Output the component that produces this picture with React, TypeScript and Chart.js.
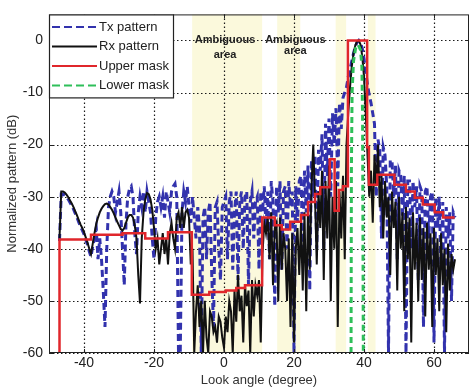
import React, { useEffect, useRef } from "react";
import { Chart, registerables } from "chart.js";

Chart.register(...registerables);

// Angle grid of the measured patterns (degrees)
const angleStart = -47;
const angleStep = 0.5;

// Tx pattern (dB), one value every 0.5 degree from -47 to 66
const txPattern = [
  -38.5, -29.5, -29.5, -29.7, -30, -30.5, -31.1, -31.7, -32.4, -33.2,
  -34, -34.9, -35.7, -36.4, -37.2, -38.2, -39.2, -40.5, -41.5, -39.5,
  -38, -36, -42, -38, -42, -48, -55, -40, -32, -30,
  -29, -30, -33, -31, -29, -33, -40, -47, -35, -30,
  -28.5, -28, -30, -37, -41, -33, -30, -32, -29, -33,
  -29, -31, -33, -38, -42, -34, -31, -30, -32, -30,
  -34, -29, -31, -33, -29, -28, -27.5, -30, -60, -60,
  -33, -29, -31, -28, -32, -35, -30, -34, -38, -32,
  -36, -60, -34, -32, -42, -33, -31, -45, -55, -32,
  -31, -40, -46, -32, -31, -30, -42, -31, -29, -44,
  -33, -29, -46, -31, -29, -40, -30, -29, -47, -31,
  -29, -38, -31, -30, -44, -29, -33, -28, -36, -29,
  -42, -27, -31, -51, -28, -33, -27, -44, -29, -28,
  -40, -27, -32, -29, -60, -28, -35, -27, -26, -40,
  -25, -33, -24, -48, -23, -30, -22, -40, -21, -25,
  -18, -40, -16, -26, -15, -30, -14, -20, -13, -28,
  -12, -17, -11, -10, -9, -7, -5.5, -4, -2.5, -1.2,
  -0.4, 0, -0.5, -1.5, -3.5, -6, -8.5, -10.5, -12, -14,
  -16, -30, -19, -21, -38, -20.5, -22, -28, -60, -23,
  -23, -30, -24, -42, -25, -26, -34, -26, -60, -27,
  -27, -40, -27, -32, -28, -46, -28, -29, -55, -29,
  -28, -38, -30, -29, -58, -30, -36, -30, -44, -31,
  -60, -32, -38, -33, -50, -33, -34,
];

// Rx pattern (dB), same angle grid
const rxPattern = [
  -38, -29, -29, -29.2, -29.6, -30.1, -30.7, -31.3, -32, -32.8,
  -33.6, -34.5, -35.3, -36, -36.8, -37.8, -38.8, -40, -41, -39,
  -37, -35.2, -34, -33, -32.3, -31.8, -31.4, -31.3, -31.5, -32,
  -32.5, -33.2, -34, -34.8, -35.5, -36.2, -36.5, -36, -35, -34,
  -33.5, -33.5, -34, -35.5, -38, -45, -50.5, -38, -33, -30.5,
  -29.3, -29.5, -30.5, -32.5, -36, -40, -38, -43, -40, -37,
  -41, -38, -43, -37, -35, -38, -40, -34, -33, -36,
  -32, -36, -33, -32.5, -34, -43, -40, -60, -52, -47,
  -55, -50, -60, -50, -57, -60, -52, -53, -56, -55,
  -58, -53, -54, -57, -59, -53, -56, -50, -52, -60,
  -48, -54, -45, -52, -49, -58, -47, -51, -48, -60,
  -46, -53, -47, -49, -46, -58, -41, -35, -37, -34,
  -42, -33, -47, -36, -35, -50, -34, -44, -37, -40,
  -50, -38, -55, -37, -58, -40, -36, -45, -35, -48,
  -33, -52, -32, -44, -28, -20, -30, -43, -29, -36,
  -25, -46, -27, -38, -24, -50, -30, -40, -27, -55,
  -29, -38, -26, -42, -20, -14, -9, -5, -2.5, -1,
  -0.2, 0, -0.8, -3, -7, -14, -22, -30, -25, -35,
  -22, -28, -20, -32, -26, -38, -27, -34, -30, -45,
  -29, -36, -31, -48, -30, -40, -33, -52, -32, -42,
  -34, -58, -33, -44, -35, -50, -34, -46, -36, -53,
  -35, -44, -37, -55, -36, -45, -38, -52, -37, -47,
  -40, -56, -39, -48, -41, -44, -42,
];

// Upper mask: each level holds from its angle to the next angle
const upperMaskAngles = [
  -47, -47, -38, -29, -22.5, -16, -9.2, -4.2, 0.5, 3.5,
  6, 10.9, 14.5, 16.5, 18.9, 22, 24, 26, 27.5, 30.2,
  31.6, 32.8, 34, 35.4, 40.9, 41.4, 43.8, 48.7, 52, 54.5,
  56.8, 60.2, 62.6, 65.9,
];
const upperMaskLevels = [
  -60, -38.2, -37.3, -37, -38, -36.8, -48.8, -48.3, -48, -47.5,
  -47, -34, -35.5, -36.3, -34.8, -33.5, -31, -29.5, -28.2, -22.8,
  -32.7, -28.7, -28, 0, -20.5, -27.7, -25.8, -27.7, -29, -30.2,
  -31.5, -33, -34, -34,
];

// Lower mask
const lowerMaskAngles = [36.3, 36.4, 36.6, 37.0, 37.6, 38.3, 39.0, 39.4, 39.6, 39.8];
const lowerMaskLevels = [-60, -25, -10, -4, -1.5, -0.8, -1.8, -5, -15, -60];

// Axes
const xTickValues = [-40, -20, 0, 20, 40, 60];
const yTickValues = [-60, -50, -40, -30, -20, -10, 0];

// Ambiguous areas (degrees)
const bandStarts = [-9.1, 15.2, 31.9, 41.1];
const bandEnds = [10.9, 21.8, 34.9, 43.3];
const ambiguousLabelAngles = [0.3, 20.4];
const ambiguousLine1Levels = [0, 0];
const ambiguousLine2Levels = [-2.7, -2.0];

const FONT = "'Liberation Sans', Arial, sans-serif";

const decorPlugin = {
  id: "decor",
  beforeDraw(chart: any) {
    const { ctx, chartArea, scales } = chart;
    const xs = scales.x;
    ctx.save();
    ctx.fillStyle = "#fbf9dc";
    for (let i = 0; i < bandStarts.length; i++) {
      const a = Math.max(chartArea.left, xs.getPixelForValue(bandStarts[i]));
      const b = Math.min(chartArea.right, xs.getPixelForValue(bandEnds[i]));
      ctx.fillRect(a, chartArea.top, b - a, chartArea.bottom - chartArea.top);
    }
    ctx.restore();
  },
  beforeDatasetsDraw(chart: any) {
    const { ctx, chartArea, scales } = chart;
    const xs = scales.x;
    const ys = scales.y;
    ctx.save();
    ctx.strokeStyle = "#1a1a1a";
    ctx.lineWidth = 1.2;
    ctx.setLineDash([1.5, 2.5]);
    ctx.beginPath();
    for (const v of xTickValues) {
      const px = Math.round(xs.getPixelForValue(v)) + 0.5;
      ctx.moveTo(px, chartArea.top);
      ctx.lineTo(px, chartArea.bottom);
    }
    for (const v of yTickValues) {
      const py = Math.round(ys.getPixelForValue(v)) + 0.5;
      ctx.moveTo(chartArea.left, py);
      ctx.lineTo(chartArea.right, py);
    }
    ctx.stroke();
    ctx.restore();
  },
  afterDraw(chart: any) {
    const { ctx, chartArea, scales } = chart;
    const xs = scales.x;
    const ys = scales.y;
    ctx.save();
    // frame
    ctx.strokeStyle = "#222";
    ctx.lineWidth = 1;
    ctx.setLineDash([]);
    ctx.strokeRect(chartArea.left + 0.5, chartArea.top + 0.5, chartArea.right - chartArea.left - 1, chartArea.bottom - chartArea.top - 1);
    // small tick marks
    ctx.beginPath();
    for (const v of xTickValues) {
      const px = Math.round(xs.getPixelForValue(v)) + 0.5;
      ctx.moveTo(px, chartArea.bottom);
      ctx.lineTo(px, chartArea.bottom - 4);
      ctx.moveTo(px, chartArea.top);
      ctx.lineTo(px, chartArea.top + 4);
    }
    for (const v of yTickValues) {
      const py = Math.round(ys.getPixelForValue(v)) + 0.5;
      ctx.moveTo(chartArea.left, py);
      ctx.lineTo(chartArea.left + 4, py);
      ctx.moveTo(chartArea.right, py);
      ctx.lineTo(chartArea.right - 4, py);
    }
    ctx.stroke();

    // ambiguous labels
    ctx.fillStyle = "#222";
    ctx.font = `bold 11px ${FONT}`;
    ctx.textAlign = "center";
    ctx.textBaseline = "middle";
    for (let i = 0; i < ambiguousLabelAngles.length; i++) {
      const px = xs.getPixelForValue(ambiguousLabelAngles[i]);
      ctx.fillText("Ambiguous", px, ys.getPixelForValue(ambiguousLine1Levels[i]));
      ctx.fillText("area", px, ys.getPixelForValue(ambiguousLine2Levels[i]));
    }

    // legend box
    const bx = chartArea.left;
    const by = chartArea.top;
    const bw = 124;
    const bh = 83;
    ctx.fillStyle = "#ffffff";
    ctx.fillRect(bx, by, bw, bh);
    ctx.strokeStyle = "#222";
    ctx.lineWidth = 1.2;
    ctx.strokeRect(bx + 0.5, by + 0.5, bw, bh);
    const datasets = chart.data.datasets;
    ctx.font = `13px ${FONT}`;
    ctx.textAlign = "left";
    datasets.forEach((ds: any, i: number) => {
      const cy = by + 12.5 + i * 19.5;
      ctx.beginPath();
      ctx.strokeStyle = ds.borderColor;
      ctx.lineWidth = 2;
      ctx.setLineDash(ds.borderDash ? [8, 4] : []);
      ctx.moveTo(bx + 3, cy);
      ctx.lineTo(bx + 48, cy);
      ctx.stroke();
      ctx.setLineDash([]);
      ctx.fillStyle = "#222";
      ctx.fillText(ds.label, bx + 50, cy + 0.5);
    });
    ctx.restore();
  },
};

export default function App() {
  const canvasRef = useRef<HTMLCanvasElement>(null);

  useEffect(() => {
    document.body.style.margin = "0";
    const grid = (vals: number[]) => vals.map((v, i) => ({ x: angleStart + i * angleStep, y: v }));
    const pairs = (xs: number[], ys: number[]) => xs.map((x, i) => ({ x, y: ys[i] }));

    const chart = new Chart(canvasRef.current as HTMLCanvasElement, {
      type: "line",
      data: {
        datasets: [
          {
            label: "Tx pattern",
            data: grid(txPattern),
            borderColor: "#3232ad",
            borderWidth: 3,
            borderDash: [7, 4],
            pointRadius: 0,
            order: 4,
          },
          {
            label: "Rx pattern",
            data: grid(rxPattern),
            borderColor: "#111111",
            borderWidth: 2,
            pointRadius: 0,
            order: 3,
          },
          {
            label: "Upper mask",
            data: pairs(upperMaskAngles, upperMaskLevels),
            borderColor: "#e0262b",
            borderWidth: 2.5,
            stepped: "before",
            pointRadius: 0,
            order: 2,
          },
          {
            label: "Lower mask",
            data: pairs(lowerMaskAngles, lowerMaskLevels),
            borderColor: "#2fbf5a",
            borderWidth: 3,
            borderDash: [6, 4],
            pointRadius: 0,
            order: 1,
          },
        ] as any,
      },
      options: {
        responsive: false,
        devicePixelRatio: 1,
        animation: false,
        events: [],
        layout: { padding: { top: 5, right: 5, left: 0, bottom: 0 } },
        plugins: {
          legend: { display: false },
          tooltip: { enabled: false },
        },
        scales: {
          x: {
            type: "linear",
            min: -50,
            max: 70,
            afterBuildTicks: (axis: any) => {
              axis.ticks = xTickValues.map((v) => ({ value: v }));
            },
            afterFit: (s: any) => {
              s.height = 39;
            },
            ticks: {
              font: { family: FONT, size: 14 },
              color: "#222",
              padding: 2,
              maxRotation: 0,
              autoSkip: false,
            },
            grid: { display: false, drawTicks: false },
            border: { display: false },
            title: {
              display: true,
              text: "Look angle (degree)",
              font: { family: FONT, size: 13 },
              color: "#333",
              padding: { top: 0, bottom: 4 },
            },
          },
          y: {
            type: "linear",
            min: -60,
            max: 5,
            afterBuildTicks: (axis: any) => {
              axis.ticks = yTickValues.map((v) => ({ value: v }));
            },
            afterFit: (s: any) => {
              s.width = 49;
            },
            ticks: {
              font: { family: FONT, size: 14 },
              color: "#222",
              padding: 6,
              autoSkip: false,
            },
            grid: { display: false, drawTicks: false },
            border: { display: false },
            title: {
              display: true,
              text: "Normalized pattern (dB)",
              font: { family: FONT, size: 13 },
              color: "#333",
              padding: { top: 5, bottom: 0 },
            },
          },
        },
      } as any,
      plugins: [decorPlugin],
    });
    return () => chart.destroy();
  }, []);

  return (
    <div style={{ width: 474, height: 392 }}>
      <canvas ref={canvasRef} width={474} height={392} style={{ display: "block" }} />
    </div>
  );
}
